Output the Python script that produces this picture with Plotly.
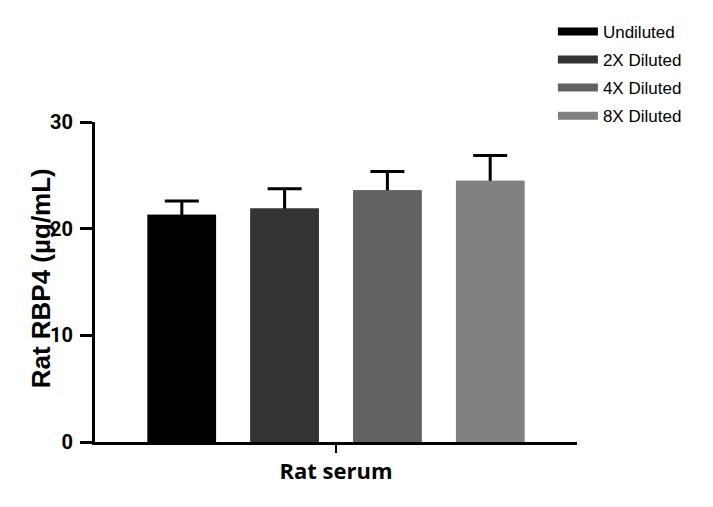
import plotly.graph_objects as go

category = ["Rat serum"]
series_names = ["Undiluted", "2X Diluted", "4X Diluted", "8X Diluted"]
means = [21.3, 21.9, 23.6, 24.5]
errors = [1.3, 1.85, 1.75, 2.35]
colors = ["#000000", "#333333", "#626262", "#818181"]
y_ticks = [0, 10, 20, 30]
y_title = "Rat RBP4 (µg/mL)"

fig = go.Figure()
# bars with error bars (lower half hidden by the bar drawn on top)
for i, name in enumerate(series_names):
    fig.add_trace(go.Bar(
        x=category, y=[means[i]], name=name, offsetgroup=str(i),
        marker=dict(color=colors[i], line=dict(width=0)),
        error_y=dict(type="data", array=[errors[i]], symmetric=True,
                     color="black", thickness=3, width=17),
        showlegend=False, hoverinfo="skip",
    ))
for i, name in enumerate(series_names):
    fig.add_trace(go.Bar(
        x=category, y=[means[i]], name=name, offsetgroup=str(i),
        marker=dict(color=colors[i], line=dict(width=0)),
        showlegend=False,
    ))
# legend entries
for i, name in enumerate(series_names):
    fig.add_trace(go.Scatter(
        x=[None], y=[None], mode="lines", name=name,
        line=dict(color=colors[i], width=8),
        legendgroup=name, showlegend=True,
    ))

fig.add_annotation(
    text=y_title, textangle=-90, xref="paper", yref="paper",
    x=-0.113, y=0.51, xanchor="center", yanchor="middle", showarrow=False,
    font=dict(family="Liberation Sans, Arial", size=26, color="black", weight="bold"),
)

fig.update_layout(
    width=705, height=499,
    margin=dict(l=87, r=136, t=114, b=65, autoexpand=False),
    paper_bgcolor="white", plot_bgcolor="white",
    barmode="group", bargap=0.147, bargroupgap=0.334,
    legend=dict(x=0.95, y=1.338, xanchor="left", yanchor="top",
                font=dict(family="Liberation Sans, Arial", size=17, color="black"),
                tracegroupgap=3, itemwidth=40, bgcolor="rgba(0,0,0,0)"),
    xaxis=dict(showline=True, linecolor="black", linewidth=3, automargin=False,
               ticks="outside", ticklen=8, tickwidth=2, tickcolor="black",
               tickfont=dict(family="Open Sans, DejaVu Sans", size=22, color="black", weight="bold"),
               showgrid=False, zeroline=False),
    yaxis=dict(range=[0, 30], tickvals=y_ticks, showline=True, linecolor="black", linewidth=3,
               automargin=False,
               ticks="outside", ticklen=12, tickwidth=3, tickcolor="black", ticklabelstandoff=3,
               tickfont=dict(family="Roboto", size=20, color="black", weight="bold"),
               showgrid=False, zeroline=False),
)
fig.write_html("out.html")
